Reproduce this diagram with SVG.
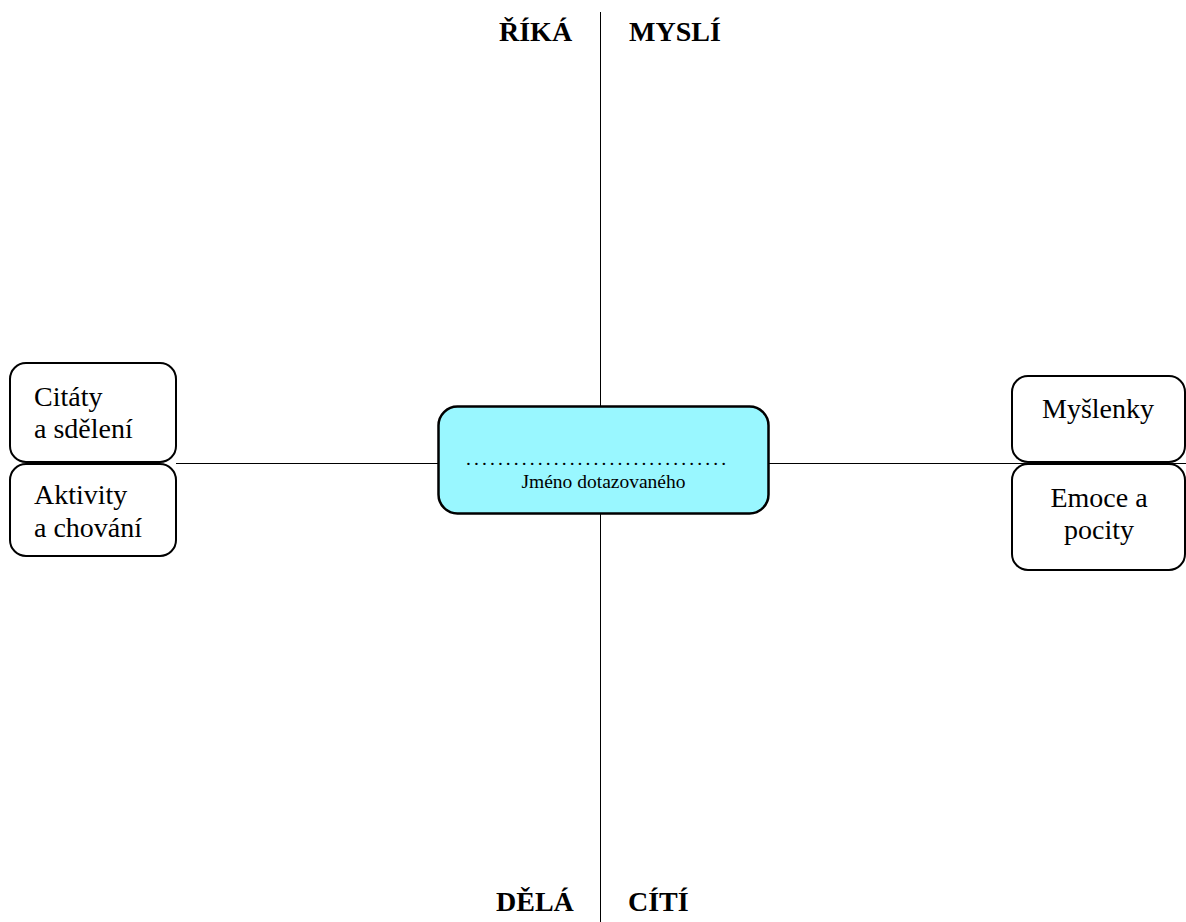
<svg xmlns="http://www.w3.org/2000/svg" width="1186" height="922" viewBox="0 0 1186 922">
<style>
.box{fill:#fff;stroke:#000;stroke-width:2}
.t{font-family:"Liberation Serif","Times New Roman",serif;font-size:28px;fill:#000}
.h{font-family:"Liberation Serif","Times New Roman",serif;font-size:28px;font-weight:bold;fill:#000}
.ln{stroke:#000;stroke-width:1;fill:none}
</style>
<rect width="1186" height="922" fill="#fff"/>
<g id="connectors">
<line class="ln" x1="600.5" y1="12" x2="600.5" y2="922"/>
<line class="ln" x1="176" y1="463.5" x2="1186" y2="463.5"/>
</g>
<g id="headers">
<text class="h" x="499" y="41">ŘÍKÁ</text>
<text class="h" x="629" y="41">MYSLÍ</text>
<text class="h" x="496" y="911">DĚLÁ</text>
<text class="h" x="628" y="911">CÍTÍ</text>
</g>
<g id="citaty">
<rect class="box" x="10" y="363" width="166" height="99" rx="16"/>
<text class="t" x="34" y="406">Citáty</text>
<text class="t" x="34" y="438">a sdělení</text>
</g>
<g id="aktivity">
<rect class="box" x="10" y="464" width="166" height="92" rx="16"/>
<text class="t" x="34" y="504">Aktivity</text>
<text class="t" x="34" y="537">a chování</text>
</g>
<g id="myslenky">
<rect class="box" x="1012" y="376" width="173" height="86" rx="16"/>
<text class="t" x="1098" y="418" text-anchor="middle">Myšlenky</text>
</g>
<g id="emoce">
<rect class="box" x="1012" y="464" width="173" height="106" rx="16"/>
<text class="t" x="1099" y="507" text-anchor="middle">Emoce a</text>
<text class="t" x="1099" y="539" text-anchor="middle">pocity</text>
</g>
<g id="center">
<rect x="438.5" y="406.5" width="330" height="107" rx="19" fill="#99F7FF" stroke="#000" stroke-width="2.5"/>
<text class="t" style="font-size:19.5px" x="466" y="465" textLength="260" lengthAdjust="spacing">.................................</text>
<text class="t" style="font-size:19.5px" x="603.5" y="488" text-anchor="middle">Jméno dotazovaného</text>
</g>
</svg>
